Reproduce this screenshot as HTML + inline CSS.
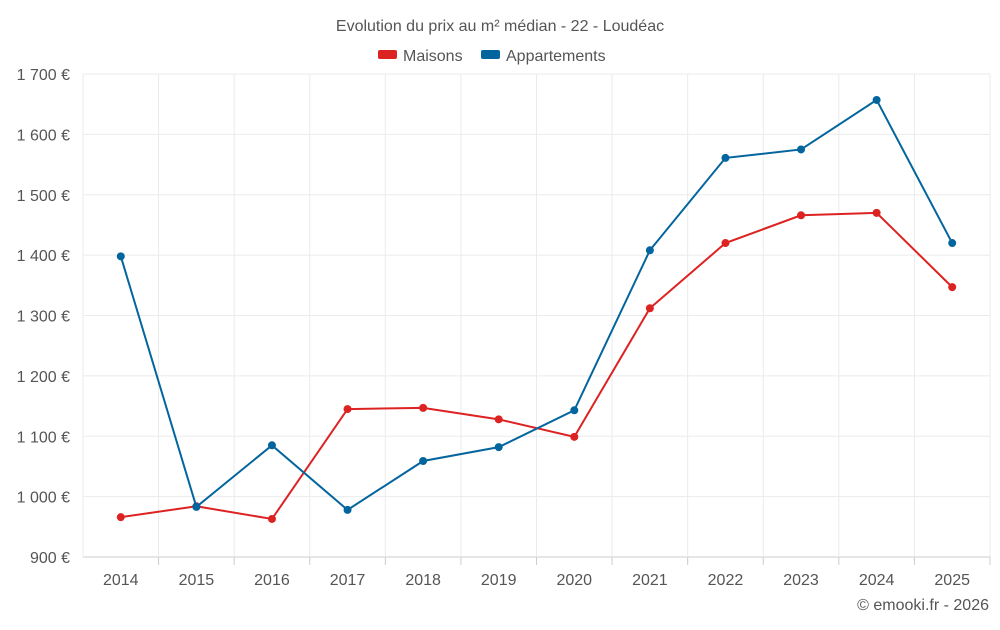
<!DOCTYPE html>
<html><head><meta charset="utf-8"><style>
body{margin:0;background:#fff;font-family:"Liberation Sans",sans-serif;}
svg text{font-family:"Liberation Sans",sans-serif;}
</style></head><body>
<svg id="chart" width="1000" height="625">
<text x="500" y="31" text-anchor="middle" font-size="16" fill="#555">Evolution du prix au m² médian - 22 - Loudéac</text>
<g>
<g><rect x="378" y="50" width="19" height="9" rx="2" fill="#dd2222"/><text x="403" y="61" font-size="16" fill="#555">Maisons</text></g>
<g><rect x="481" y="50" width="19" height="9" rx="2" fill="#03659e"/><text x="506" y="61" font-size="16" fill="#555">Appartements</text></g>
</g>
<g id="grid"></g><g id="axes"></g><g id="series"></g>
<text x="989" y="610" text-anchor="end" font-size="16" fill="#555">© emooki.fr - 2026</text>
</svg>
<script>
const years=["2014","2015","2016","2017","2018","2019","2020","2021","2022","2023","2024","2025"];
const maisons=[966,984,963,1145,1147,1128,1099,1312,1420,1466,1470,1347];
const appartements=[1398,983,1085,978,1059,1082,1143,1408,1561,1575,1657,1420];
const yTicks=[900,1000,1100,1200,1300,1400,1500,1600,1700];
const yTickLabels=["900 €","1 000 €","1 100 €","1 200 €","1 300 €","1 400 €","1 500 €","1 600 €","1 700 €"];
const L=83,R=990,T=74,B=557,ymin=900,ymax=1700;
const bw=(R-L)/years.length;
const x=i=>L+bw*(i+0.5);
const y=v=>B-(v-ymin)/(ymax-ymin)*(B-T);
const NS="http://www.w3.org/2000/svg";
function mk(t,a,p){const e=document.createElementNS(NS,t);for(const k in a)e.setAttribute(k,a[k]);p.appendChild(e);return e;}
const grid=document.getElementById('grid'),axes=document.getElementById('axes'),ser=document.getElementById('series');
yTicks.forEach((v,i)=>{
 const l=mk('line',{x1:L,x2:R,y1:y(v),y2:y(v),stroke:i==0?'#ccc':'#ebebeb','stroke-width':1},grid);
 
 
 const t=mk('text',{x:70,y:y(v)+6,'text-anchor':'end','font-size':16,fill:'#555'},axes);t.textContent=yTickLabels[i];
 
 
});
for(let i=0;i<=years.length;i++){
 const l=mk('line',{x1:L+bw*i,x2:L+bw*i,y1:T,y2:B,stroke:'#ebebeb'},grid);
 
 
 if(i<years.length){const tk=mk('line',{x1:L+bw*(i+1),x2:L+bw*(i+1),y1:B,y2:B+8,stroke:'#ccc'},axes);
 
 }
}
years.forEach((yr,i)=>{const t=mk('text',{x:x(i),y:585,'text-anchor':'middle','font-size':16,fill:'#555'},axes);t.textContent=yr;
 
 });
function draw(data,color,name){
 const p=mk('polyline',{points:data.map((v,i)=>x(i)+','+y(v)).join(' '),fill:'none',stroke:color,'stroke-width':2},ser);
 
 
 data.forEach((v,i)=>{const c=mk('circle',{cx:x(i),cy:y(v),r:4,fill:color},ser);
 
 });
}
draw(maisons,'#dd2222','maisons');
draw(appartements,'#03659e','appartements');
</script>
</body></html>
